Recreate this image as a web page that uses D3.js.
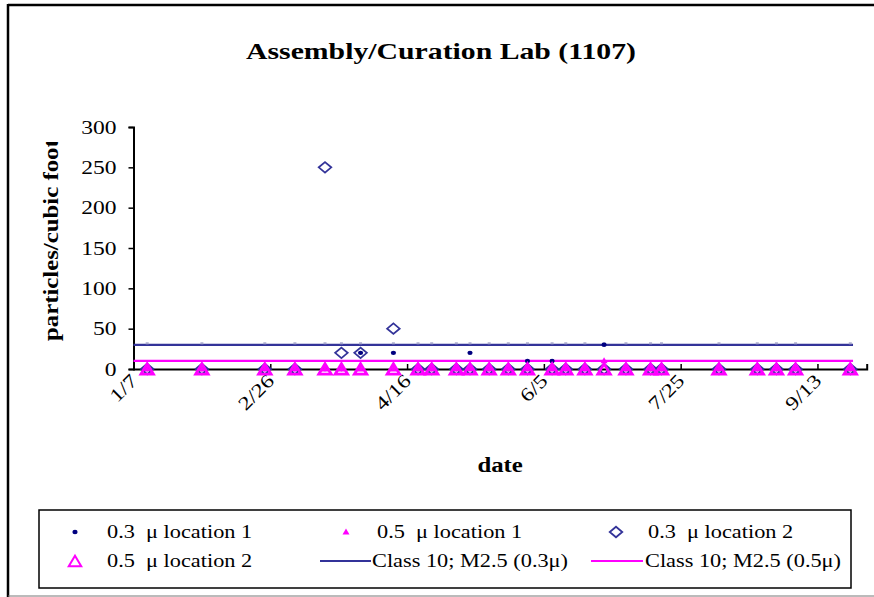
<!DOCTYPE html>
<html>
<head>
<meta charset="utf-8">
<script src="https://cdn.jsdelivr.net/npm/d3@7"></script>
<style>
  body { margin: 0; background: #fff; }
  svg { display: block; }
  text { font-family: "Liberation Serif", "Times New Roman", serif; fill: #000; }
</style>
</head>
<body>
<svg id="chart" width="874" height="597"></svg>
<script>
const TITLE = "Assembly/Curation Lab (1107)";
const Y_TITLE = "particles/cubic foot";
const X_TITLE = "date";

const DATES = [
  "2004-01-12", "2004-02-01", "2004-02-24", "2004-03-06", "2004-03-17",
  "2004-03-23", "2004-03-30", "2004-04-11", "2004-04-20", "2004-04-25",
  "2004-05-04", "2004-05-09", "2004-05-16", "2004-05-23", "2004-05-30",
  "2004-06-08", "2004-06-13", "2004-06-20", "2004-06-27", "2004-07-05",
  "2004-07-14", "2004-07-18", "2004-08-08", "2004-08-22", "2004-08-29",
  "2004-09-05", "2004-09-25"
];

const LOC1_03 = [0, 0, 0, 0, 0, 0, 20, 20, 0, 0, 0, 20, 0, 0, 10, 10, 0, 0, 30, 0, 0, 0, 0, 0, 0, 0, 0];
const LOC1_05 = [0, 0, 0, 0, 0, 0, 0, 0, 0, 0, 0, 0, 0, 0, 0, 0, 0, 0, 10, 0, 0, 0, 0, 0, 0, 0, 0];
const LOC2_03 = [0, 0, 0, 0, 250, 20, 20, 50, 0, 0, 0, 0, 0, 0, 0, 0, 0, 0, 0, 0, 0, 0, 0, 0, 0, 0, 0];
const LOC2_05 = [0, 0, 0, 0, 0, 0, 0, 0, 0, 0, 0, 0, 0, 0, 0, 0, 0, 0, 0, 0, 0, 0, 0, 0, 0, 0, 0];

const CLASS_DATES = ["2004-01-07", "2004-09-26"];
const CLASS_03 = [30, 30];
const CLASS_05 = [10, 10];

const X_DOMAIN = ["2004-01-07", "2004-10-01"];
const X_TICKS = ["2004-01-07", "2004-02-26", "2004-04-16", "2004-06-05", "2004-07-25", "2004-09-13"];
const Y_TICKS = [0, 50, 100, 150, 200, 250, 300];

const LEGEND_LABELS = [
  "0.3  \u03bc location 1",
  "0.5  \u03bc location 1",
  "0.3  \u03bc location 2",
  "0.5  \u03bc location 2",
  "Class 10; M2.5 (0.3\u03bc)",
  "Class 10; M2.5 (0.5\u03bc)"
];

const NAVY = "#000080";
const BLUE = "#333399";
const MAGENTA = "#ff00ff";

// text in the original is stretched along its baseline
const SX = 1.24;

const parse = d3.timeParse("%Y-%m-%d");
const svg = d3.select("#chart");

const plot = { left: 133.5, right: 866.7, top: 127, bottom: 369 };

const x = d3.scaleTime()
  .domain(X_DOMAIN.map(parse))
  .range([plot.left, plot.right]);

const y = d3.scaleLinear()
  .domain([0, 300])
  .range([plot.bottom, plot.top]);

function addText(parent, tx, ty, str, size, opts = {}) {
  const rot = opts.rotate ? ` rotate(${opts.rotate})` : "";
  return parent.append("text")
    .attr("transform", `translate(${tx},${ty})${rot} scale(${SX},1)`)
    .attr("text-anchor", opts.anchor || "start")
    .attr("font-size", size + "px")
    .attr("font-weight", opts.bold ? "bold" : "normal")
    .attr("dy", opts.dy || null)
    .style("white-space", "pre")
    .text(str);
}

// outer chart frame (right side runs off the picture)
svg.append("line").attr("x1", 8).attr("x2", 8).attr("y1", 4).attr("y2", 597)
  .attr("stroke", "#000").attr("stroke-width", 2.5);
svg.append("line").attr("x1", 8).attr("x2", 874).attr("y1", 5).attr("y2", 5)
  .attr("stroke", "#000").attr("stroke-width", 2.5);
svg.append("line").attr("x1", 8).attr("x2", 874).attr("y1", 596).attr("y2", 596)
  .attr("stroke", "#777").attr("stroke-width", 1);

addText(svg, 441, 59, TITLE, 24, { anchor: "middle", bold: true });

// y axis
const yAxis = svg.append("g")
  .attr("transform", `translate(${plot.left},0)`)
  .call(d3.axisLeft(y).tickValues(Y_TICKS).tickSize(5).tickFormat(""));
yAxis.select(".domain").attr("stroke", "#000").attr("stroke-width", 2);
yAxis.selectAll(".tick line").attr("stroke", "#000").attr("stroke-width", 1.5);

const yLabels = svg.append("g");
Y_TICKS.forEach(v => {
  addText(yLabels, plot.left - 17, y(v), String(v), 19, { anchor: "end", dy: "0.35em" });
});

// x axis
const xAxis = svg.append("g")
  .attr("transform", `translate(0,${plot.bottom})`)
  .call(d3.axisBottom(x).tickValues(X_TICKS.map(parse)).tickSize(-5).tickFormat(""));
xAxis.select(".domain").attr("stroke", "#000").attr("stroke-width", 2);
xAxis.selectAll(".tick line").attr("stroke", "#000").attr("stroke-width", 1.5);

const xLabels = svg.append("g");
X_TICKS.forEach(d => {
  addText(xLabels, x(parse(d)) + 5, plot.bottom + 13, d3.timeFormat("%-m/%-d")(parse(d)), 19,
    { anchor: "end", rotate: -45 });
});

addText(svg, (plot.left + plot.right) / 2, 472, X_TITLE, 20, { anchor: "middle", bold: true });

// y title, clipped at the top like the original
svg.append("defs").append("clipPath").attr("id", "ytitle-clip")
  .append("rect").attr("x", 0).attr("y", 142).attr("width", 120).attr("height", 300);

const yTitleGroup = svg.append("g").attr("clip-path", "url(#ytitle-clip)");
addText(yTitleGroup, 58, 341, Y_TITLE, 20, { bold: true, rotate: -90 });

// Class 10 limit lines
const line = d3.line()
  .x(d => x(d.date))
  .y(d => y(d.value));

const class03 = CLASS_DATES.map((d, i) => ({ date: parse(d), value: CLASS_03[i] }));
const class05 = CLASS_DATES.map((d, i) => ({ date: parse(d), value: CLASS_05[i] }));

svg.append("path").datum(class03)
  .attr("d", line).attr("fill", "none").attr("stroke", BLUE).attr("stroke-width", 2.2);

svg.selectAll(".class-mark")
  .data(DATES)
  .enter()
  .append("rect")
  .attr("class", "class-mark")
  .attr("x", d => x(parse(d)) - 1.5)
  .attr("y", y(30) - 2.5)
  .attr("width", 3)
  .attr("height", 2)
  .attr("fill", "#a8a8cc");

svg.append("path").datum(class05)
  .attr("d", line).attr("fill", "none").attr("stroke", MAGENTA).attr("stroke-width", 2.2);

// marker shapes
function trianglePath(w, h) {
  return `M0,${-h * 0.6}L${w / 2},${h * 0.4}L${-w / 2},${h * 0.4}Z`;
}
function diamondPath(w, h) {
  return `M0,${-h / 2}L${w / 2},0L0,${h / 2}L${-w / 2},0Z`;
}

const points = DATES.map((d, i) => ({
  date: parse(d),
  l103: LOC1_03[i],
  l105: LOC1_05[i],
  l203: LOC2_03[i],
  l205: LOC2_05[i]
}));

svg.selectAll(".m-l103")
  .data(points)
  .enter()
  .append("ellipse")
  .attr("class", "m-l103")
  .attr("cx", d => x(d.date))
  .attr("cy", d => y(d.l103))
  .attr("rx", 2.6)
  .attr("ry", 2.2)
  .attr("fill", NAVY);

svg.selectAll(".m-l105")
  .data(points)
  .enter()
  .append("path")
  .attr("class", "m-l105")
  .attr("transform", d => `translate(${x(d.date)},${y(d.l105)})`)
  .attr("d", trianglePath(7, 6))
  .attr("fill", MAGENTA);

svg.selectAll(".m-l203")
  .data(points)
  .enter()
  .append("path")
  .attr("class", "m-l203")
  .attr("transform", d => `translate(${x(d.date)},${y(d.l203)})`)
  .attr("d", diamondPath(12.5, 10.5))
  .attr("fill", "none")
  .attr("stroke", BLUE)
  .attr("stroke-width", 1.8);

svg.selectAll(".m-l205")
  .data(points)
  .enter()
  .append("path")
  .attr("class", "m-l205")
  .attr("transform", d => `translate(${x(d.date)},${y(d.l205) + 1})`)
  .attr("d", trianglePath(12.5, 10.5))
  .attr("fill", "none")
  .attr("stroke", MAGENTA)
  .attr("stroke-width", 2.8);

// legend
const legend = svg.append("g");
legend.append("rect")
  .attr("x", 39).attr("y", 510).attr("width", 812).attr("height", 78)
  .attr("fill", "#fff").attr("stroke", "#000").attr("stroke-width", 1.5);

const rowY = [532, 561];
const colMark = [75, 346, 616];
const colText = [107, 377, 648];

const items = [
  { kind: "dot", col: 0, row: 0 },
  { kind: "smalltri", col: 1, row: 0 },
  { kind: "diamond", col: 2, row: 0 },
  { kind: "tri", col: 0, row: 1 },
  { kind: "line", color: BLUE, x1: 320, x2: 371, tx: 372, row: 1 },
  { kind: "line", color: MAGENTA, x1: 591, x2: 643, tx: 645, row: 1 }
];

items.forEach((it, i) => {
  const cy = rowY[it.row];
  const g = legend.append("g");
  let tx;
  if (it.kind === "line") {
    g.append("line").attr("x1", it.x1).attr("x2", it.x2).attr("y1", cy).attr("y2", cy)
      .attr("stroke", it.color).attr("stroke-width", 2.2);
    tx = it.tx;
  } else {
    const cx = colMark[it.col];
    tx = colText[it.col];
    if (it.kind === "dot") {
      g.append("ellipse").attr("cx", cx).attr("cy", cy).attr("rx", 2.6).attr("ry", 2.2).attr("fill", NAVY);
    } else if (it.kind === "smalltri") {
      g.append("path").attr("transform", `translate(${cx},${cy})`)
        .attr("d", trianglePath(7, 6)).attr("fill", MAGENTA);
    } else if (it.kind === "diamond") {
      g.append("path").attr("transform", `translate(${cx},${cy})`)
        .attr("d", diamondPath(12.5, 10.5)).attr("fill", "none").attr("stroke", BLUE).attr("stroke-width", 1.8);
    } else {
      g.append("path").attr("transform", `translate(${cx},${cy + 1})`)
        .attr("d", trianglePath(12.5, 10.5)).attr("fill", "none").attr("stroke", MAGENTA).attr("stroke-width", 2);
    }
  }
  addText(g, tx, cy + 6, LEGEND_LABELS[i], 18);
});
</script>
</body>
</html>
